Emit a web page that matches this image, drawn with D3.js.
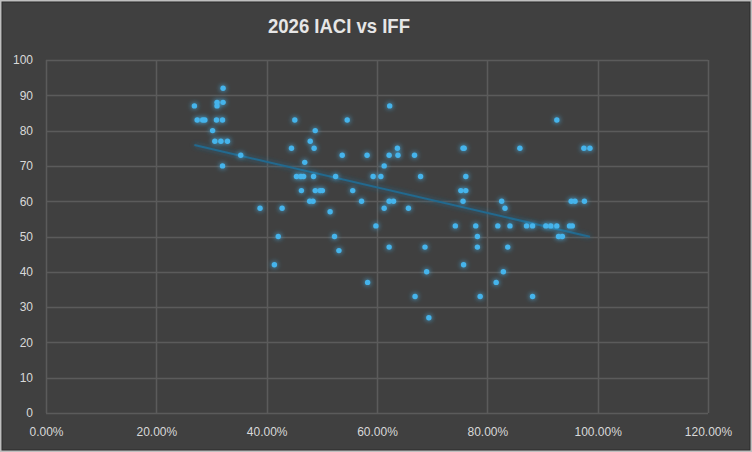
<!DOCTYPE html>
<html>
<head>
  <title>2026 IACI vs IFF</title>
  <style type="text/css">
    body { margin: 0; background: #404040; }
    svg { display: block; }
  </style>
</head>
<body>

<div id="chart"></div>

<script src="https://d3js.org/d3.v7.min.js"></script>
<script type="text/javascript">
var width = 752;
var height = 452;

// IFF (x, share) and IACI (y) for each point
var iff = [0.269, 0.274, 0.284, 0.288, 0.302, 0.306, 0.310, 0.310, 0.309, 0.321,
  0.321, 0.320, 0.317, 0.329, 0.320, 0.353, 0.388, 0.414, 0.421, 0.428,
  0.445, 0.451, 0.454, 0.462, 0.467, 0.485, 0.463, 0.469, 0.479, 0.478,
  0.484, 0.486, 0.488, 0.488, 0.497, 0.501, 0.515, 0.523, 0.525, 0.531,
  0.537, 0.546, 0.556, 0.572, 0.582, 0.583, 0.593, 0.598, 0.607, 0.613,
  0.613, 0.622, 0.622, 0.623, 0.622, 0.630, 0.637, 0.638, 0.657, 0.668,
  0.669, 0.679, 0.687, 0.690, 0.694, 0.742, 0.752, 0.756, 0.758, 0.756,
  0.757, 0.761, 0.761, 0.779, 0.782, 0.782, 0.787, 0.816, 0.819, 0.826,
  0.829, 0.832, 0.837, 0.841, 0.859, 0.871, 0.882, 0.882, 0.906, 0.915,
  0.926, 0.926, 0.929, 0.936, 0.949, 0.954, 0.952, 0.959, 0.976, 0.975,
  0.986];
var iaci = [87, 83, 83, 83, 80, 77, 88, 87, 83, 92,
  88, 83, 77, 77, 70, 73, 58, 42, 50, 58,
  75, 83, 67, 67, 67, 67, 63, 71, 77, 60,
  60, 75, 80, 63, 63, 63, 57, 50, 67, 46,
  73, 83, 63, 60, 73, 37, 67, 53, 67, 70,
  58, 73, 60, 87, 47, 60, 75, 73, 58, 73,
  33, 67, 47, 40, 27, 53, 63, 75, 75, 60,
  42, 67, 63, 53, 50, 47, 33, 37, 53, 60,
  40, 58, 47, 53, 75, 53, 53, 33, 53, 53,
  53, 83, 50, 50, 53, 53, 60, 60, 60, 75,
  75];
var xTicks = [0, 0.2, 0.4, 0.6, 0.8, 1.0, 1.2];
var yTicks = [0, 10, 20, 30, 40, 50, 60, 70, 80, 90, 100];
var title = "2026 IACI vs IFF";

var data = iff.map((v, i) => ({x: v, y: iaci[i]}));

var x = d3.scaleLinear().domain([0, 1.2]).range([46, 708]);
var y = d3.scaleLinear().domain([0, 100]).range([413, 60]);

var svg = d3.select("#chart")
  .append("svg")
  .attr("width", width)
  .attr("height", height);

var defs = svg.append("defs");
var glow = defs.append("filter")
  .attr("id", "glow")
  .attr("x", "-100%").attr("y", "-100%")
  .attr("width", "300%").attr("height", "300%");
glow.append("feGaussianBlur")
  .attr("in", "SourceGraphic")
  .attr("stdDeviation", 2.4)
  .attr("result", "blur");
var merge = glow.append("feMerge");
merge.append("feMergeNode").attr("in", "blur");
merge.append("feMergeNode").attr("in", "SourceGraphic");

// chart frame
svg.append("rect")
  .attr("width", width)
  .attr("height", height)
  .attr("fill", "#bfbfbf");
svg.append("rect")
  .attr("x", 2).attr("y", 2)
  .attr("width", width - 4)
  .attr("height", height - 4)
  .attr("fill", "#404040")
  .attr("stroke", "#2a2a2a")
  .attr("stroke-width", 1);

// grid
svg.append("g")
  .selectAll("line")
  .data(yTicks)
  .join("line")
  .attr("x1", x(0)).attr("x2", x(1.2))
  .attr("y1", d => Math.round(y(d)) + 0.5)
  .attr("y2", d => Math.round(y(d)) + 0.5)
  .attr("stroke", "#5b5b5b")
  .attr("stroke-width", 1.5);

svg.append("g")
  .selectAll("line")
  .data(xTicks)
  .join("line")
  .attr("x1", d => Math.round(x(d)) + 0.5)
  .attr("x2", d => Math.round(x(d)) + 0.5)
  .attr("y1", y(0)).attr("y2", y(100))
  .attr("stroke", "#5b5b5b")
  .attr("stroke-width", 1.5);

// axis labels
var xAxis = d3.axisBottom(x).tickValues(xTicks).tickFormat(d3.format(".2%")).tickSize(0).tickPadding(14);
var yAxis = d3.axisLeft(y).tickValues(yTicks).tickFormat(d3.format("d")).tickSize(0).tickPadding(13);

svg.append("g")
  .attr("transform", `translate(0,${y(0)})`)
  .call(xAxis)
  .call(g => g.select(".domain").remove());
svg.append("g")
  .attr("transform", `translate(${x(0)},0)`)
  .call(yAxis)
  .call(g => g.select(".domain").remove());

svg.selectAll(".tick text")
  .attr("fill", "#d9d9d9")
  .style("font-family", "'Liberation Sans', Arial, sans-serif")
  .style("font-size", "12px");

// linear trendline
var xm = d3.mean(data, d => d.x);
var ym = d3.mean(data, d => d.y);
var slope = d3.sum(data, d => (d.x - xm) * (d.y - ym)) / d3.sum(data, d => (d.x - xm) * (d.x - xm));
var icpt = ym - slope * xm;
var xExt = d3.extent(data, d => d.x);

svg.append("line")
  .attr("x1", x(xExt[0])).attr("y1", y(icpt + slope * xExt[0]))
  .attr("x2", x(xExt[1])).attr("y2", y(icpt + slope * xExt[1]))
  .attr("stroke", "#22698e")
  .attr("stroke-width", 2)
  .attr("filter", "url(#glow)");

// points
svg.append("g")
  .attr("filter", "url(#glow)")
  .selectAll("circle")
  .data(data)
  .join("circle")
  .attr("cx", d => x(d.x))
  .attr("cy", d => y(d.y))
  .attr("r", 2.7)
  .attr("fill", "#45b4ec");

// title
svg.append("text")
  .attr("x", 339)
  .attr("y", 33)
  .attr("text-anchor", "middle")
  .attr("fill", "#e6e6e6")
  .attr("textLength", 142)
  .attr("lengthAdjust", "spacingAndGlyphs")
  .style("font-family", "'Liberation Sans', sans-serif")
  .style("font-weight", "bold")
  .style("font-size", "21px")
  .text(title);
</script>
</body>
</html>
